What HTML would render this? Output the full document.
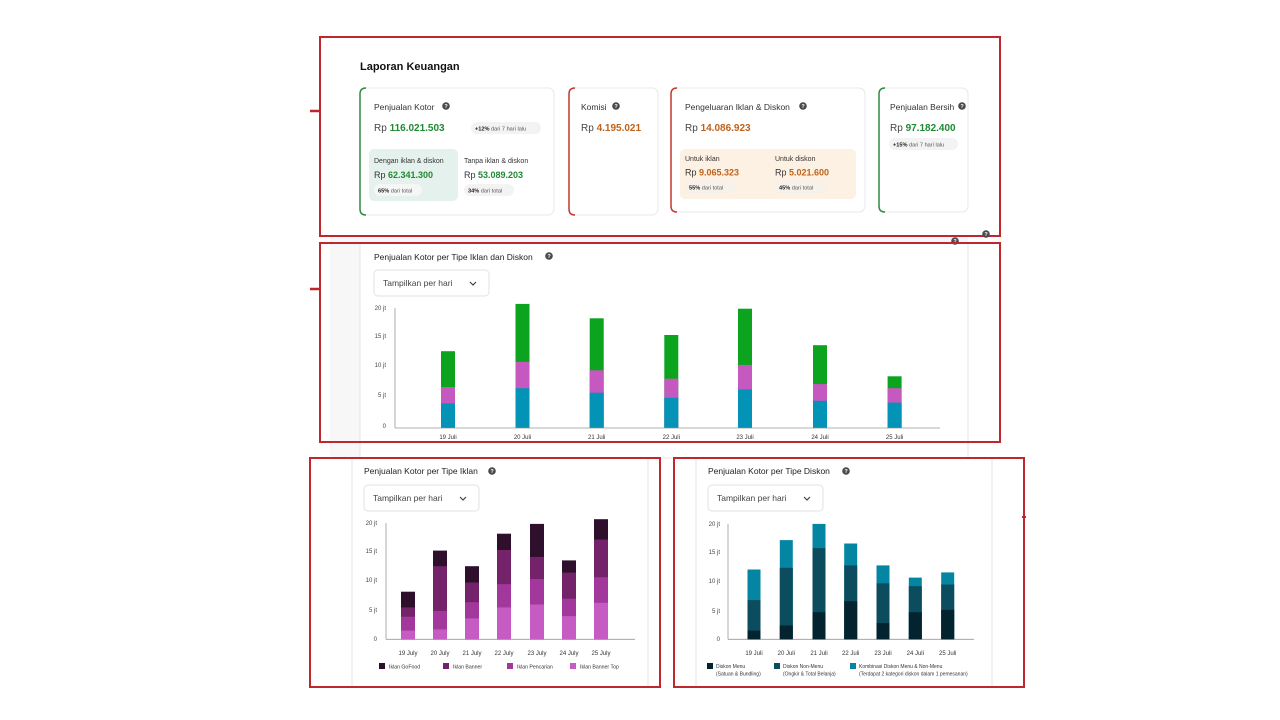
<!DOCTYPE html>
<html><head><meta charset="utf-8"><style>
html,body{margin:0;padding:0;background:#fff;width:1280px;height:720px;overflow:hidden}
svg{display:block;font-family:"Liberation Sans",sans-serif}
</style></head><body>
<svg width="1280" height="720" viewBox="0 0 1280 720" xmlns="http://www.w3.org/2000/svg">
<defs>
<g id="q"><circle r="3.8" fill="#4a4a4a"/><text y="2.2" text-anchor="middle" font-size="5.5" fill="#fff" font-weight="bold">?</text></g>
</defs>
<!-- background frames -->
<rect x="330" y="236" width="638" height="222" fill="#f7f7f7"/>
<rect x="360" y="243" width="608" height="215" fill="#fff" stroke="#e6e6e6"/>
<rect x="352" y="458" width="296" height="230" fill="#fff"/>
<line x1="352" y1="458" x2="352" y2="688" stroke="#e6e6e6"/>
<line x1="648" y1="458" x2="648" y2="688" stroke="#e6e6e6"/>
<line x1="696" y1="458" x2="696" y2="688" stroke="#e6e6e6"/>
<line x1="992" y1="458" x2="992" y2="688" stroke="#e6e6e6"/>
<!-- small red marks -->
<line x1="310" y1="111" x2="320" y2="111" stroke="#c0272d" stroke-width="2.5"/>
<line x1="310" y1="289" x2="320" y2="289" stroke="#c0272d" stroke-width="2.5"/>
<line x1="1022" y1="517" x2="1026" y2="517" stroke="#c0272d" stroke-width="2"/>

<!-- TOP SECTION -->
<rect x="320" y="37" width="680" height="199" fill="#fff"/>
<text x="360" y="70" font-size="11" font-weight="bold" fill="#111">Laporan Keuangan</text>
<!-- card1 -->
<rect x="360" y="88" width="194" height="127" rx="6" fill="#fff" stroke="#e8e8e8"/>
<path d="M366 88 Q360 88 360 94 L360 209 Q360 215 366 215" fill="none" stroke="#2e8b3e" stroke-width="1.5"/>
<text x="374" y="110" font-size="8.5" fill="#333">Penjualan Kotor</text>
<use href="#q" x="446" y="106"/>
<text x="374" y="131" font-size="10" fill="#444">Rp <tspan fill="#1e8a32" font-weight="bold">116.021.503</tspan></text>
<rect x="471" y="122" width="70" height="12" rx="6" fill="#f3f3f3"/>
<text x="475" y="130.5" font-size="5.6" fill="#555"><tspan font-weight="bold" fill="#222">+12%</tspan> dari 7 hari lalu</text>
<rect x="369" y="149" width="89" height="52" rx="5" fill="#e5f1ec"/>
<text x="374" y="163" font-size="7" fill="#333">Dengan iklan &amp; diskon</text>
<text x="374" y="178" font-size="9" fill="#333">Rp <tspan fill="#1e8a32" font-weight="bold">62.341.300</tspan></text>
<rect x="374" y="184" width="48" height="12" rx="6" fill="#f6f6f6"/>
<text x="378" y="192.5" font-size="5.6" fill="#555"><tspan font-weight="bold" fill="#222">65%</tspan> dari total</text>
<text x="464" y="163" font-size="7" fill="#333">Tanpa iklan &amp; diskon</text>
<text x="464" y="178" font-size="9" fill="#333">Rp <tspan fill="#1e8a32" font-weight="bold">53.089.203</tspan></text>
<rect x="464" y="184" width="50" height="12" rx="6" fill="#f3f3f3"/>
<text x="468" y="192.5" font-size="5.6" fill="#555"><tspan font-weight="bold" fill="#222">34%</tspan> dari total</text>
<!-- card2 -->
<rect x="569" y="88" width="89" height="127" rx="6" fill="#fff" stroke="#e8e8e8"/>
<path d="M575 88 Q569 88 569 94 L569 209 Q569 215 575 215" fill="none" stroke="#c0392b" stroke-width="1.5"/>
<text x="581" y="110" font-size="8.5" fill="#333">Komisi</text>
<use href="#q" x="616" y="106"/>
<text x="581" y="131" font-size="10" fill="#444">Rp <tspan fill="#c0621c" font-weight="bold">4.195.021</tspan></text>
<!-- card3 -->
<rect x="671" y="88" width="194" height="124" rx="6" fill="#fff" stroke="#e8e8e8"/>
<path d="M677 88 Q671 88 671 94 L671 206 Q671 212 677 212" fill="none" stroke="#c0392b" stroke-width="1.5"/>
<text x="685" y="110" font-size="8.5" fill="#333">Pengeluaran Iklan &amp; Diskon</text>
<use href="#q" x="803" y="106"/>
<text x="685" y="131" font-size="10" fill="#444">Rp <tspan fill="#c0621c" font-weight="bold">14.086.923</tspan></text>
<rect x="680" y="149" width="176" height="50" rx="5" fill="#fdf1e3"/>
<text x="685" y="161" font-size="7" fill="#333">Untuk iklan</text>
<text x="685" y="175.5" font-size="9" fill="#333">Rp <tspan fill="#c0621c" font-weight="bold">9.065.323</tspan></text>
<rect x="685" y="181" width="50" height="12" rx="6" fill="#f6f1ea"/>
<text x="689" y="189.5" font-size="5.6" fill="#555"><tspan font-weight="bold" fill="#222">55%</tspan> dari total</text>
<text x="775" y="161" font-size="7" fill="#333">Untuk diskon</text>
<text x="775" y="175.5" font-size="9" fill="#333">Rp <tspan fill="#c0621c" font-weight="bold">5.021.600</tspan></text>
<rect x="775" y="181" width="52" height="12" rx="6" fill="#f6f1ea"/>
<text x="779" y="189.5" font-size="5.6" fill="#555"><tspan font-weight="bold" fill="#222">45%</tspan> dari total</text>
<!-- card4 -->
<rect x="879" y="88" width="89" height="124" rx="6" fill="#fff" stroke="#e8e8e8"/>
<path d="M885 88 Q879 88 879 94 L879 206 Q879 212 885 212" fill="none" stroke="#2e8b3e" stroke-width="1.5"/>
<text x="890" y="110" font-size="8.5" fill="#333">Penjualan Bersih</text>
<use href="#q" x="962" y="106"/>
<text x="890" y="131" font-size="10" fill="#444">Rp <tspan fill="#1e8a32" font-weight="bold">97.182.400</tspan></text>
<rect x="889" y="138" width="69" height="12" rx="6" fill="#f3f3f3"/>
<text x="893" y="146.5" font-size="5.6" fill="#555"><tspan font-weight="bold" fill="#222">+15%</tspan> dari 7 hari lalu</text>
<rect x="320" y="37" width="680" height="199" fill="none" stroke="#c0272d" stroke-width="2"/>
<use href="#q" x="955" y="241"/>
<use href="#q" x="986" y="234"/>

<!-- CHART 1 -->
<text x="374" y="260" font-size="8.5" fill="#222">Penjualan Kotor per Tipe Iklan dan Diskon</text>
<use href="#q" x="549" y="256"/>
<rect x="374" y="270" width="115" height="26" rx="4" fill="#fff" stroke="#e2e2e2"/>
<text x="383" y="286" font-size="8.5" fill="#444">Tampilkan per hari</text>
<path d="M470 282 L473 285 L476 282" fill="none" stroke="#444" stroke-width="1.2"/>
<g font-size="6" fill="#444" text-anchor="end">
<text x="386" y="310">20 jt</text><text x="386" y="338">15 jt</text><text x="386" y="367">10 jt</text><text x="386" y="397">5 jt</text><text x="386" y="428">0</text>
</g>
<line x1="395" y1="308" x2="395" y2="428" stroke="#999" stroke-width="0.8"/>
<line x1="395" y1="428" x2="940" y2="428" stroke="#999" stroke-width="0.8"/>
<g>
<rect x="441" y="351.2" width="14" height="76.5" fill="#0ca41e"/><rect x="441" y="387" width="14" height="40.7" fill="#c659c0"/><rect x="441" y="403.4" width="14" height="24.3" fill="#0393b6"/>
<rect x="515.5" y="303.9" width="14" height="123.8" fill="#0ca41e"/><rect x="515.5" y="361.9" width="14" height="65.8" fill="#c659c0"/><rect x="515.5" y="388.2" width="14" height="39.5" fill="#0393b6"/>
<rect x="589.7" y="318.3" width="14" height="109.4" fill="#0ca41e"/><rect x="589.7" y="370.3" width="14" height="57.4" fill="#c659c0"/><rect x="589.7" y="392.7" width="14" height="35" fill="#0393b6"/>
<rect x="664.3" y="335" width="14" height="92.7" fill="#0ca41e"/><rect x="664.3" y="378.7" width="14" height="49" fill="#c659c0"/><rect x="664.3" y="397.8" width="14" height="29.9" fill="#0393b6"/>
<rect x="738" y="308.7" width="14" height="119" fill="#0ca41e"/><rect x="738" y="364.9" width="14" height="62.8" fill="#c659c0"/><rect x="738" y="389.4" width="14" height="38.3" fill="#0393b6"/>
<rect x="813" y="345.2" width="14" height="82.5" fill="#0ca41e"/><rect x="813" y="384.1" width="14" height="43.6" fill="#c659c0"/><rect x="813" y="400.8" width="14" height="26.9" fill="#0393b6"/>
<rect x="887.6" y="376.3" width="14" height="51.4" fill="#0ca41e"/><rect x="887.6" y="388.2" width="14" height="39.5" fill="#c659c0"/><rect x="887.6" y="402.6" width="14" height="25.1" fill="#0393b6"/>
</g>
<g font-size="6" fill="#333" text-anchor="middle">
<text x="448" y="439">19 Juli</text><text x="522.5" y="439">20 Juli</text><text x="596.7" y="439">21 Juli</text><text x="671.3" y="439">22 Juli</text><text x="745" y="439">23 Juli</text><text x="820" y="439">24 Juli</text><text x="894.6" y="439">25 Juli</text>
</g>
<rect x="320" y="243" width="680" height="199" fill="none" stroke="#c0272d" stroke-width="2"/>

<!-- CHART 2 -->
<text x="364" y="474" font-size="8.5" fill="#222">Penjualan Kotor per Tipe Iklan</text>
<use href="#q" x="492" y="471"/>
<rect x="364" y="485" width="115" height="26" rx="4" fill="#fff" stroke="#e2e2e2"/>
<text x="373" y="501" font-size="8.5" fill="#444">Tampilkan per hari</text>
<path d="M460 497 L463 500 L466 497" fill="none" stroke="#444" stroke-width="1.2"/>
<g font-size="6" fill="#444" text-anchor="end">
<text x="377" y="525">20 jt</text><text x="377" y="553">15 jt</text><text x="377" y="582">10 jt</text><text x="377" y="612">5 jt</text><text x="377" y="641">0</text>
</g>
<line x1="386" y1="523" x2="386" y2="639.3" stroke="#999" stroke-width="0.8"/>
<line x1="386" y1="639.3" x2="635" y2="639.3" stroke="#999" stroke-width="0.8"/>
<g>
<rect x="401" y="591.7" width="14" height="47.6" fill="#2e0f2c"/><rect x="401" y="607.4" width="14" height="31.9" fill="#742269"/><rect x="401" y="616.7" width="14" height="22.6" fill="#a3389c"/><rect x="401" y="630.6" width="14" height="8.7" fill="#c65bc3"/>
<rect x="433" y="550.6" width="14" height="88.7" fill="#2e0f2c"/><rect x="433" y="566.2" width="14" height="73.1" fill="#742269"/><rect x="433" y="610.9" width="14" height="28.4" fill="#a3389c"/><rect x="433" y="629.4" width="14" height="9.9" fill="#c65bc3"/>
<rect x="465" y="566.2" width="14" height="73.1" fill="#2e0f2c"/><rect x="465" y="582.5" width="14" height="56.8" fill="#742269"/><rect x="465" y="602.2" width="14" height="37.1" fill="#a3389c"/><rect x="465" y="618.4" width="14" height="20.9" fill="#c65bc3"/>
<rect x="497" y="533.7" width="14" height="105.6" fill="#2e0f2c"/><rect x="497" y="550" width="14" height="89.3" fill="#742269"/><rect x="497" y="584.2" width="14" height="55.1" fill="#a3389c"/><rect x="497" y="607.4" width="14" height="31.9" fill="#c65bc3"/>
<rect x="530" y="523.9" width="14" height="115.4" fill="#2e0f2c"/><rect x="530" y="556.9" width="14" height="82.4" fill="#742269"/><rect x="530" y="579" width="14" height="60.3" fill="#a3389c"/><rect x="530" y="604.5" width="14" height="34.8" fill="#c65bc3"/>
<rect x="562" y="560.4" width="14" height="78.9" fill="#2e0f2c"/><rect x="562" y="572.6" width="14" height="66.7" fill="#742269"/><rect x="562" y="598.7" width="14" height="40.6" fill="#a3389c"/><rect x="562" y="616.1" width="14" height="23.2" fill="#c65bc3"/>
<rect x="594" y="519.2" width="14" height="120.1" fill="#2e0f2c"/><rect x="594" y="539.5" width="14" height="99.8" fill="#742269"/><rect x="594" y="577.2" width="14" height="62.1" fill="#a3389c"/><rect x="594" y="602.8" width="14" height="36.5" fill="#c65bc3"/>
</g>
<g font-size="6" fill="#333" text-anchor="middle">
<text x="408" y="655">19 July</text><text x="440" y="655">20 July</text><text x="472" y="655">21 July</text><text x="504" y="655">22 July</text><text x="537" y="655">23 July</text><text x="569" y="655">24 July</text><text x="601" y="655">25 July</text>
</g>
<g font-size="5.2" fill="#333">
<rect x="379" y="663" width="6" height="6" fill="#2e0f2c"/><text x="389" y="668.5">Iklan GoFood</text>
<rect x="443" y="663" width="6" height="6" fill="#742269"/><text x="453" y="668.5">Iklan Banner</text>
<rect x="507" y="663" width="6" height="6" fill="#a3389c"/><text x="517" y="668.5">Iklan Pencarian</text>
<rect x="570" y="663" width="6" height="6" fill="#c65bc3"/><text x="580" y="668.5">Iklan Banner Top</text>
</g>
<rect x="310" y="458" width="350" height="229" fill="none" stroke="#c0272d" stroke-width="2"/>

<!-- CHART 3 -->
<text x="708" y="474" font-size="8.5" fill="#222">Penjualan Kotor per Tipe Diskon</text>
<use href="#q" x="846" y="471"/>
<rect x="708" y="485" width="115" height="26" rx="4" fill="#fff" stroke="#e2e2e2"/>
<text x="717" y="501" font-size="8.5" fill="#444">Tampilkan per hari</text>
<path d="M804 497 L807 500 L810 497" fill="none" stroke="#444" stroke-width="1.2"/>
<g font-size="6" fill="#444" text-anchor="end">
<text x="720" y="526">20 jt</text><text x="720" y="554">15 jt</text><text x="720" y="583">10 jt</text><text x="720" y="613">5 jt</text><text x="720" y="641">0</text>
</g>
<line x1="728" y1="524" x2="728" y2="639.3" stroke="#999" stroke-width="0.8"/>
<line x1="728" y1="639.3" x2="974" y2="639.3" stroke="#999" stroke-width="0.8"/>
<g>
<rect x="747.5" y="569.5" width="13" height="69.8" fill="#0486a3"/><rect x="747.5" y="600.1" width="13" height="39.2" fill="#0b4d5e"/><rect x="747.5" y="630.6" width="13" height="8.7" fill="#03242e"/>
<rect x="779.8" y="540.1" width="13" height="99.2" fill="#0486a3"/><rect x="779.8" y="567.8" width="13" height="71.5" fill="#0b4d5e"/><rect x="779.8" y="625.5" width="13" height="13.8" fill="#03242e"/>
<rect x="812.5" y="523.9" width="13" height="115.4" fill="#0486a3"/><rect x="812.5" y="548.1" width="13" height="91.2" fill="#0b4d5e"/><rect x="812.5" y="612.2" width="13" height="27.1" fill="#03242e"/>
<rect x="844.2" y="543.5" width="13" height="95.8" fill="#0486a3"/><rect x="844.2" y="565.4" width="13" height="73.9" fill="#0b4d5e"/><rect x="844.2" y="601.2" width="13" height="38.1" fill="#03242e"/>
<rect x="876.5" y="565.4" width="13" height="73.9" fill="#0486a3"/><rect x="876.5" y="583.3" width="13" height="56" fill="#0b4d5e"/><rect x="876.5" y="623.1" width="13" height="16.2" fill="#03242e"/>
<rect x="908.8" y="577.6" width="13" height="61.7" fill="#0486a3"/><rect x="908.8" y="586.2" width="13" height="53.1" fill="#0b4d5e"/><rect x="908.8" y="612.2" width="13" height="27.1" fill="#03242e"/>
<rect x="941.2" y="572.4" width="13" height="66.9" fill="#0486a3"/><rect x="941.2" y="584.5" width="13" height="54.8" fill="#0b4d5e"/><rect x="941.2" y="609.9" width="13" height="29.4" fill="#03242e"/>
</g>
<g font-size="6" fill="#333" text-anchor="middle">
<text x="754" y="655">19 Juli</text><text x="786.3" y="655">20 Juli</text><text x="819" y="655">21 Juli</text><text x="850.7" y="655">22 Juli</text><text x="883" y="655">23 Juli</text><text x="915.3" y="655">24 Juli</text><text x="947.7" y="655">25 Juli</text>
</g>
<g font-size="5" fill="#333">
<rect x="707" y="663" width="6" height="6" fill="#03242e"/><text x="716" y="668">Diskon Menu</text><text x="716" y="675.5">(Satuan &amp; Bundling)</text>
<rect x="774" y="663" width="6" height="6" fill="#0b4d5e"/><text x="783" y="668">Diskon Non-Menu</text><text x="783" y="675.5">(Ongkir &amp; Total Belanja)</text>
<rect x="850" y="663" width="6" height="6" fill="#0486a3"/><text x="859" y="668">Kombinasi Diskon Menu &amp; Non-Menu</text><text x="859" y="675.5">(Terdapat 2 kategori diskon dalam 1 pemesanan)</text>
</g>
<rect x="674" y="458" width="350" height="229" fill="none" stroke="#c0272d" stroke-width="2"/>
</svg>
</body></html>
